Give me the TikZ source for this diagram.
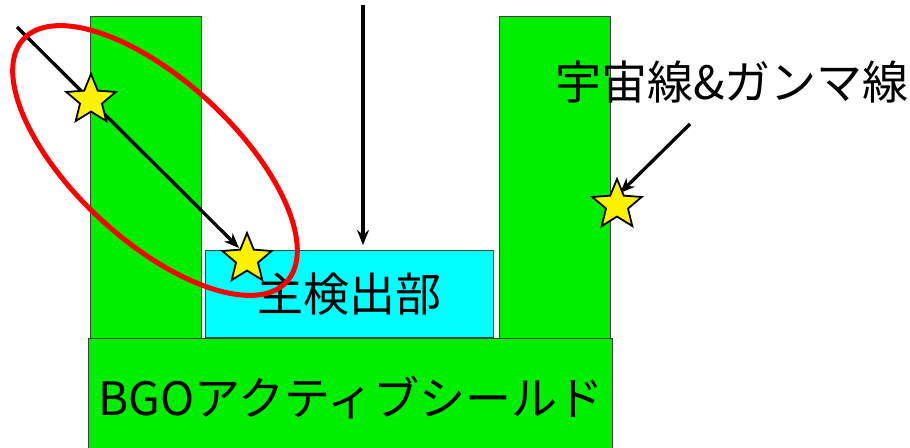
\documentclass[tikz,border=0pt]{standalone}
\usepackage{fontspec}
\newfontfamily\jp{Noto Sans CJK JP}
\usetikzlibrary{shapes.geometric,arrows.meta}
\definecolor{shieldgreen}{RGB}{0,238,0}
\definecolor{detcyan}{RGB}{0,255,255}
\begin{document}
\begin{tikzpicture}[x=1pt,y=-1pt,
  block/.style={draw=black!75, line width=0.9pt, fill=shieldgreen, anchor=north west, inner sep=0pt},
  detbox/.style={draw=black!75, line width=0.9pt, fill=detcyan, anchor=north west, inner sep=0pt},
  ray/.style={line width=3.3pt, -{Stealth[length=15pt,width=12pt]}},
  hit/.style={star, star points=5, star point ratio=2.25, minimum size=52pt, inner sep=0pt, fill=yellow, draw=black, line width=1.8pt},
  lbl/.style={font=\jp\fontsize{46}{54}\selectfont, inner sep=0pt},
  halo/.style={draw=red, ellipse, line width=5pt, inner sep=0pt}
]
\useasboundingbox (0,0) rectangle (910,447);
% shields
\node[block, minimum width=111pt, minimum height=322pt] (lp) at (90,16) {};
\node[block, minimum width=111pt, minimum height=323pt] (rp) at (499,16) {};
\node[block, minimum width=524pt, minimum height=115pt] (base) at (88,338) {};
\node[lbl] (baselbl) at (351,398) {BGOアクティブシールド};
% detector
\node[detbox, minimum width=288pt, minimum height=87pt] (det) at (205,250) {};
\node[lbl] (detlbl) at (349,294) {主検出部};
% label
\node[lbl] (cosmic) at (732,82) {宇宙線\&ガンマ線};
% rays
\coordinate (d0) at (17,27);
\coordinate (d1) at (239,248);
\draw[ray] (d0) -- (d1);
\coordinate (v0) at (363,5);
\draw[ray] (v0) -- (v0 |- det.north) [shorten >=5pt];
\coordinate (r0) at (690,124);
\coordinate (r1) at (620,193);
\draw[ray] (r0) -- (r1);
% hits
\node[hit] (s1) at (91,100) {};
\node[hit] (s2) at (247,259) {};
\node[hit] (s3) at (617,205) {};
% highlight
\node[halo, minimum width=358pt, minimum height=160pt, rotate=-42.7] (ring) at (155,160.5) {};
\end{tikzpicture}
\end{document}
